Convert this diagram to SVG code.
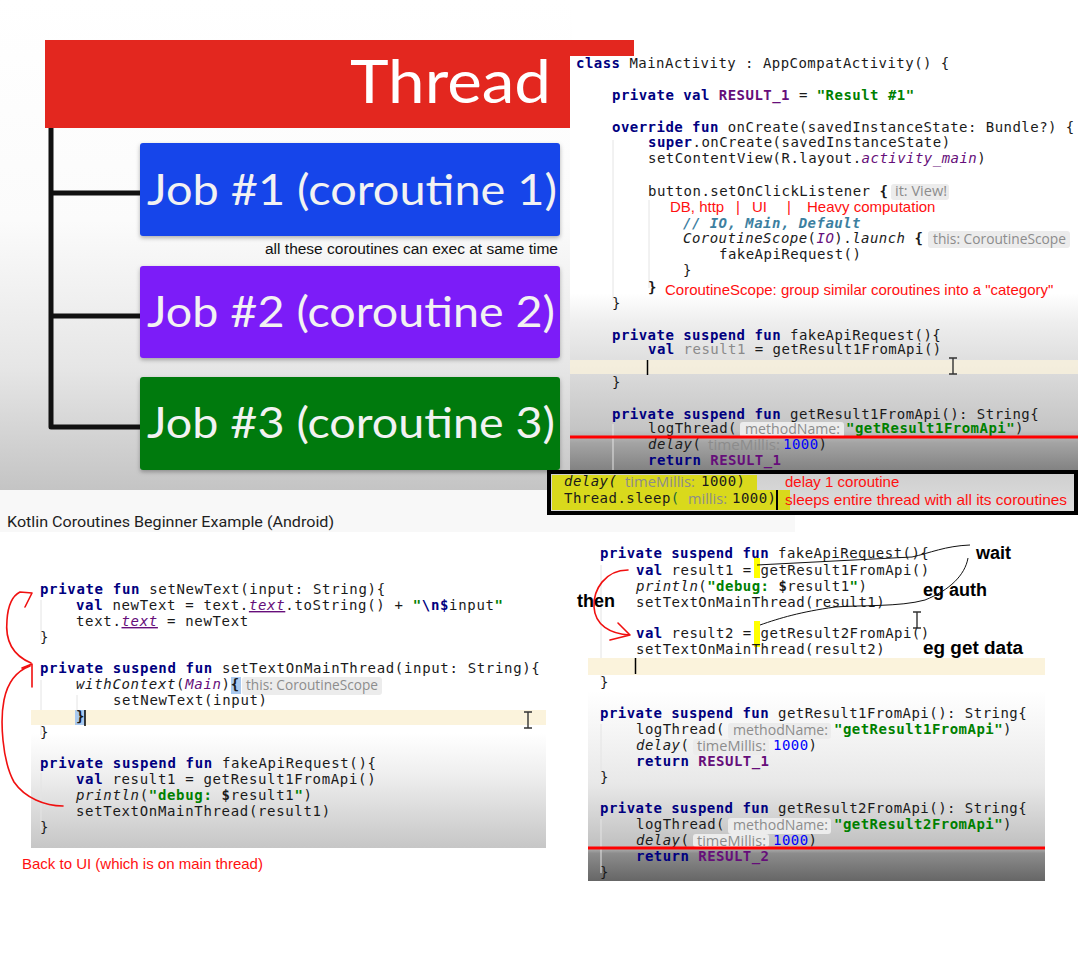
<svg xmlns="http://www.w3.org/2000/svg" width="1078" height="962" viewBox="0 0 1078 962">
<style>
.m{font-family:"DejaVu Sans Mono","Liberation Mono",monospace;font-size:14px;letter-spacing:0.47px;fill:#1a1a1a}
.m2{letter-spacing:0.67px}
.k{fill:#000080;font-weight:bold}
.s{fill:#008000;font-weight:bold}
.n{fill:#0000ff}
.v{fill:#660e7a;font-weight:bold}
.pi{fill:#660e7a;font-style:italic}
.it{font-style:italic}
.g{fill:#8a8a8a}
.b{font-weight:bold}
.cm{fill:#3d7f9f;font-style:italic;font-weight:bold}
.hint{font-family:"Open Sans","Noto Sans",sans-serif;font-size:14px;fill:#8c8c8c}
.pill{fill:#ececec}
.ann{font-family:"Liberation Sans",Arial,sans-serif;font-size:15px;fill:#ff1010}
.bk{font-family:"Liberation Sans",Arial,sans-serif;font-weight:bold;font-size:18px;fill:#000}
.job{font-family:Lato,"Open Sans",sans-serif;font-weight:400;font-size:42px;fill:#f2f2f2}
.guide{stroke:#e4e4e4;stroke-width:1}
.band{fill:#fbf3dc}
.red{fill:none;stroke:#f01010;stroke-width:1.6;stroke-linecap:round;stroke-linejoin:round}
.ink{fill:none;stroke:#111;stroke-width:1}
.beam{fill:none;stroke:#333;stroke-width:1.4}
</style>
<defs>
<linearGradient id="slideBg" gradientUnits="userSpaceOnUse" x1="0" y1="0" x2="0" y2="490">
<stop offset="0" stop-color="#ffffff"/><stop offset="0.45" stop-color="#fbfbfb"/><stop offset="0.75" stop-color="#e6e6e6"/><stop offset="1" stop-color="#c4c4c4"/>
</linearGradient>
<linearGradient id="topBg" gradientUnits="userSpaceOnUse" x1="0" y1="56" x2="0" y2="472">
<stop offset="0" stop-color="#ffffff"/><stop offset="0.57" stop-color="#ffffff"/><stop offset="0.64" stop-color="#eeeeee"/><stop offset="0.9" stop-color="#c4c4c4"/><stop offset="0.93" stop-color="#a4a4a4"/><stop offset="1" stop-color="#808080"/>
</linearGradient>
<linearGradient id="leftBg" gradientUnits="userSpaceOnUse" x1="0" y1="560" x2="0" y2="848">
<stop offset="0" stop-color="#ffffff"/><stop offset="0.6" stop-color="#ffffff"/><stop offset="0.75" stop-color="#eeeeee"/><stop offset="1" stop-color="#c6c6c6"/>
</linearGradient>
<linearGradient id="rightBg" gradientUnits="userSpaceOnUse" x1="0" y1="535" x2="0" y2="881">
<stop offset="0" stop-color="#ffffff"/><stop offset="0.45" stop-color="#ffffff"/><stop offset="0.72" stop-color="#e8e8e8"/><stop offset="0.9" stop-color="#c0c0c0"/><stop offset="0.92" stop-color="#8c8c8c"/><stop offset="1" stop-color="#666666"/>
</linearGradient>
<linearGradient id="boxBg" gradientUnits="userSpaceOnUse" x1="0" y1="472" x2="0" y2="513">
<stop offset="0" stop-color="#cfcfcf"/><stop offset="1" stop-color="#dedede"/>
</linearGradient>
<filter id="sh" x="-5%" y="-10%" width="110%" height="130%">
<feDropShadow dx="0" dy="2" stdDeviation="2" flood-opacity="0.3"/>
</filter>
</defs>

<rect width="1078" height="962" fill="#ffffff"/>

<g id="slide">
<rect x="0" y="0" width="572" height="490" fill="url(#slideBg)"/>
<rect x="45" y="40" width="589" height="88" fill="#e3271f"/>
<text x="350" y="103" font-family="Lato,'Open Sans',sans-serif" font-size="60" fill="#ffffff" textLength="201" lengthAdjust="spacingAndGlyphs">Thread</text>
</g>

<g id="job1">
<rect x="140" y="143" width="420" height="93" rx="3" fill="#1444ea" filter="url(#sh)"/>
<text class="job" x="147" y="205" textLength="410" lengthAdjust="spacingAndGlyphs">Job #1 (coroutine 1)</text>
</g>
<g id="job2">
<rect x="140" y="266" width="420" height="92" rx="3" fill="#7b1df8" filter="url(#sh)"/>
<text class="job" x="147" y="327" textLength="408" lengthAdjust="spacingAndGlyphs">Job #2 (coroutine 2)</text>
</g>
<g id="job3">
<rect x="140" y="377" width="420" height="93" rx="3" fill="#067a10" filter="url(#sh)"/>
<text class="job" x="147" y="438" textLength="408" lengthAdjust="spacingAndGlyphs">Job #3 (coroutine 3)</text>
</g>
<g id="caption-parallel">
<text x="558" y="254" text-anchor="end" font-family="'Liberation Sans',Arial,sans-serif" font-size="15.5" fill="#111" textLength="293" lengthAdjust="spacingAndGlyphs">all these coroutines can exec at same time</text>
</g>

<g id="code-top">
<rect x="570" y="56" width="508" height="416" fill="url(#topBg)"/>
<line class="guide" x1="613" y1="140" x2="613" y2="300"/>
<line class="guide" x1="649" y1="200" x2="649" y2="288"/>
<line class="guide" x1="613" y1="424" x2="613" y2="470"/>
<text class="m" x="576" y="68"><tspan class="k">class</tspan> MainActivity : AppCompatActivity() {</text>
<text class="m" x="612" y="100"><tspan class="k">private val</tspan> <tspan class="v">RESULT_1</tspan> = <tspan class="s">"Result #1"</tspan></text>
<text class="m" x="612" y="132"><tspan class="k">override fun</tspan> onCreate(savedInstanceState: Bundle?) {</text>
<text class="m" x="648" y="147"><tspan class="k">super</tspan>.onCreate(savedInstanceState)</text>
<text class="m" x="648" y="163">setContentView(R.layout.<tspan class="pi">activity_main</tspan>)</text>
<text class="m" x="648" y="196">button.setOnClickListener <tspan class="b">{</tspan></text>
<rect class="pill" x="891" y="184" width="58" height="16" rx="3"/>
<text class="hint" x="895" y="196" textLength="52" lengthAdjust="spacingAndGlyphs">it: View!</text>
<text class="ann" x="670" y="212">DB, http</text>
<text class="ann" x="736" y="212">|</text>
<text class="ann" x="752" y="212">UI</text>
<text class="ann" x="787" y="212">|</text>
<text class="ann" x="807" y="212">Heavy computation</text>
<text class="m cm" x="683" y="228">// IO, Main, Default</text>
<text class="m" x="683" y="243"><tspan class="it">CoroutineScope</tspan>(<tspan class="pi">IO</tspan>).<tspan class="it">launch</tspan> <tspan class="b">{</tspan></text>
<rect class="pill" x="928" y="231" width="142" height="17" rx="3"/>
<text class="hint" x="933" y="244" textLength="133" lengthAdjust="spacingAndGlyphs">this: CoroutineScope</text>
<text class="m" x="719" y="259">fakeApiRequest()</text>
<text class="m" x="683" y="275">}</text>
<text class="m b" x="648" y="292">}</text>
<text class="ann" x="665" y="295">CoroutineScope: group similar coroutines into a "category"</text>
<text class="m" x="612" y="308">}</text>
<text class="m" x="612" y="340"><tspan class="k">private suspend fun</tspan> fakeApiRequest(){</text>
<text class="m" x="648" y="354"><tspan class="k">val</tspan> <tspan class="g">result1</tspan> = getResult1FromApi()</text>
<rect class="band" x="570" y="360" width="508" height="14" opacity="0.75"/>
<line x1="647.5" y1="360" x2="647.5" y2="375" stroke="#000" stroke-width="1.5"/>
<path class="beam" d="M949 358h8M953 358v16M949 374h8"/>
<text class="m" x="612" y="387">}</text>
<text class="m" x="612" y="419"><tspan class="k">private suspend fun</tspan> getResult1FromApi(): String{</text>
<text class="m" x="648" y="433">logThread(</text>
<rect class="pill" x="740" y="422" width="104" height="16" rx="3"/>
<text class="hint" x="745" y="434" textLength="95" lengthAdjust="spacingAndGlyphs">methodName:</text>
<text class="m" x="846" y="433"><tspan class="s">"getResult1FromApi"</tspan>)</text>
<text class="m" x="648" y="449"><tspan class="it">delay</tspan>(</text>
<text class="hint" x="708" y="450" fill="#6e6e6e" textLength="72" lengthAdjust="spacingAndGlyphs">timeMillis:</text>
<text class="m" x="783" y="449"><tspan class="n">1000</tspan>)</text>
<text class="m" x="648" y="465"><tspan class="k">return</tspan> <tspan class="v">RESULT_1</tspan></text>
<line x1="570" y1="437" x2="1078" y2="437" stroke="#ff0000" stroke-width="3"/>
</g>

<g id="title-band">
<rect x="0" y="490" width="795" height="42" fill="#f8f8f8"/>
<text x="7" y="527" font-family="Roboto,'Liberation Sans',sans-serif" font-size="15.5" fill="#1e1e1e" textLength="327" lengthAdjust="spacingAndGlyphs">Kotlin Coroutines Beginner Example (Android)</text>
</g>

<g id="sleep-note">
<rect x="549" y="472" width="527" height="41" fill="url(#boxBg)" stroke="#000" stroke-width="4"/>
<path d="M552 475H757V490H790V510H552Z" fill="#d9d91c"/>
<text class="m it" x="564" y="486" fill="#333">delay(</text>
<text class="hint" x="625" y="487" fill="#7d7d3a" textLength="70" lengthAdjust="spacingAndGlyphs">timeMillis:</text>
<text class="m" x="701" y="486" fill="#333">1000)</text>
<text class="m" x="564" y="503" fill="#333">Thread.sleep<tspan fill="#1a6a3a">(</tspan></text>
<text class="hint" x="688" y="504" fill="#7d7d3a" textLength="39" lengthAdjust="spacingAndGlyphs">millis:</text>
<text class="m" x="732" y="503" fill="#333">1000)</text>
<line x1="777" y1="490" x2="777" y2="510" stroke="#000" stroke-width="2"/>
<text class="ann" x="785" y="487">delay 1 coroutine</text>
<text class="ann" x="785" y="505" textLength="282" lengthAdjust="spacingAndGlyphs">sleeps entire thread with all its coroutines</text>
</g>

<g id="code-left">
<rect x="31" y="560" width="515" height="288" fill="url(#leftBg)"/>
<line class="guide" x1="41" y1="600" x2="41" y2="640"/>
<line class="guide" x1="41" y1="680" x2="41" y2="735"/>
<line class="guide" x1="41" y1="773" x2="41" y2="830"/>
<line class="guide" x1="77" y1="695" x2="77" y2="712"/>
<text class="m m2" x="40" y="594"><tspan class="k">private fun</tspan> setNewText(input: String){</text>
<text class="m m2" x="76" y="610"><tspan class="k">val</tspan> newText = text.<tspan class="pi" text-decoration="underline">text</tspan>.toString() + <tspan class="s">"</tspan><tspan class="b" fill="#000080">\n$</tspan>input<tspan class="s">"</tspan></text>
<text class="m m2" x="76" y="626">text.<tspan class="pi" text-decoration="underline">text</tspan> = newText</text>
<text class="m m2" x="40" y="642">}</text>
<text class="m m2" x="40" y="673"><tspan class="k">private suspend fun</tspan> setTextOnMainThread(input: String){</text>
<rect x="231" y="677" width="10" height="17" fill="#a9c9ef"/>
<text class="m m2" x="76" y="689"><tspan class="it">withContext</tspan>(<tspan class="pi">Main</tspan>)<tspan class="b">{</tspan></text>
<rect class="pill" x="242" y="677" width="140" height="18" rx="3"/>
<text class="hint" x="246" y="690" textLength="132" lengthAdjust="spacingAndGlyphs">this: CoroutineScope</text>
<text class="m m2" x="113" y="705">setNewText(input)</text>
<rect class="band" x="31" y="710" width="515" height="15"/>
<rect x="75" y="710" width="10" height="15" fill="#a9c9ef"/>
<text class="m m2 b" x="76" y="721">}</text>
<line x1="85" y1="710" x2="85" y2="726" stroke="#000" stroke-width="1.5"/>
<path class="beam" d="M524 712h8M528 712v16M524 728h8"/>
<text class="m m2" x="40" y="737">}</text>
<text class="m m2" x="40" y="768"><tspan class="k">private suspend fun</tspan> fakeApiRequest(){</text>
<text class="m m2" x="76" y="784"><tspan class="k">val</tspan> result1 = getResult1FromApi()</text>
<text class="m m2" x="76" y="800"><tspan class="it">println</tspan>(<tspan class="s">"debug: </tspan><tspan class="b">$</tspan>result1<tspan class="s">"</tspan>)</text>
<text class="m m2" x="76" y="816">setTextOnMainThread(result1)</text>
<text class="m m2" x="40" y="832">}</text>
<text class="ann" x="22" y="869">Back to UI (which is on main thread)</text>
</g>

<g id="code-right">
<rect x="588" y="535" width="457" height="346" fill="url(#rightBg)"/>
<line class="guide" x1="601" y1="565" x2="601" y2="680"/>
<line class="guide" x1="601" y1="724" x2="601" y2="778"/>
<line class="guide" x1="601" y1="819" x2="601" y2="873"/>
<rect x="754" y="558" width="6" height="20" fill="#ffff00"/>
<rect x="754" y="621" width="6" height="26" fill="#ffff00"/>
<text class="m" x="600" y="558"><tspan class="k">private suspend fun</tspan> fakeApiRequest(){</text>
<text class="m" x="636" y="575"><tspan class="k">val</tspan> result1 = getResult1FromApi()</text>
<text class="m" x="636" y="591"><tspan class="it">println</tspan>(<tspan class="s">"debug: </tspan><tspan class="b">$</tspan>result1<tspan class="s">"</tspan>)</text>
<text class="m" x="636" y="607">setTextOnMainThread(result1)</text>
<text class="m" x="636" y="638"><tspan class="k">val</tspan> result2 = getResult2FromApi()</text>
<text class="m" x="636" y="654">setTextOnMainThread(result2)</text>
<rect class="band" x="588" y="658" width="457" height="17"/>
<line x1="635.5" y1="658" x2="635.5" y2="674" stroke="#000" stroke-width="1.5"/>
<path class="beam" d="M913 612h8M917 612v16M913 628h8"/>
<text class="m" x="600" y="687">}</text>
<text class="m" x="600" y="718"><tspan class="k">private suspend fun</tspan> getResult1FromApi(): String{</text>
<text class="m" x="636" y="734">logThread(</text>
<rect class="pill" x="728" y="723" width="103" height="16" rx="3"/>
<text class="hint" x="733" y="735" textLength="95" lengthAdjust="spacingAndGlyphs">methodName:</text>
<text class="m" x="834" y="734"><tspan class="s">"getResult1FromApi"</tspan>)</text>
<text class="m" x="636" y="750"><tspan class="it">delay</tspan>(</text>
<rect class="pill" x="693" y="739" width="76" height="16" rx="3"/>
<text class="hint" x="697" y="751" textLength="69" lengthAdjust="spacingAndGlyphs">timeMillis:</text>
<text class="m" x="773" y="750"><tspan class="n">1000</tspan>)</text>
<text class="m" x="636" y="766"><tspan class="k">return</tspan> <tspan class="v">RESULT_1</tspan></text>
<text class="m" x="600" y="782">}</text>
<text class="m" x="600" y="813"><tspan class="k">private suspend fun</tspan> getResult2FromApi(): String{</text>
<text class="m" x="636" y="829">logThread(</text>
<rect class="pill" x="728" y="818" width="103" height="16" rx="3"/>
<text class="hint" x="733" y="830" textLength="95" lengthAdjust="spacingAndGlyphs">methodName:</text>
<text class="m" x="834" y="829"><tspan class="s">"getResult2FromApi"</tspan>)</text>
<text class="m" x="636" y="845"><tspan class="it">delay</tspan>(</text>
<rect class="pill" x="693" y="834" width="76" height="13" rx="3"/>
<text class="hint" x="697" y="846" textLength="69" lengthAdjust="spacingAndGlyphs">timeMillis:</text>
<text class="m" x="773" y="845"><tspan class="n">1000</tspan>)</text>
<line x1="588" y1="848" x2="1045" y2="848" stroke="#ff0000" stroke-width="3"/>
<text class="m" x="636" y="861"><tspan class="k">return</tspan> <tspan class="v">RESULT_2</tspan></text>
<text class="m" x="600" y="877">}</text>
</g>

<g id="annotations">
<text class="bk" x="976" y="559">wait</text>
<text class="bk" x="923" y="596">eg auth</text>
<text class="bk" x="923" y="654" textLength="100" lengthAdjust="spacingAndGlyphs">eg get data</text>
<text class="bk" x="577" y="607">then</text>
</g>

<g id="connectors">
<path d="M51 128V427H140M51 193H140M51 316H140" fill="none" stroke="#111" stroke-width="5" stroke-linejoin="round"/>
<path class="red" d="M31 663C12 655 5 640 7 620C8 605 12 596 20 592L32 593L25 607"/>
<path class="red" d="M63 806C45 806 25 798 14 782C2 760 0 720 4 700C7 685 14 672 30 666M22 668L32 664L32 687"/>
<path class="red" d="M628 570C605 570 593 590 594 607C595 625 610 634 630 635M618 623L630 635L610 640"/>
<path class="ink" d="M757 565L912 557C930 553 945 546 970 545"/>
<path class="ink" d="M968 558C965 575 950 590 925 600C900 607 860 605 835 607C800 612 780 618 760 625"/>
</g>
</svg>
